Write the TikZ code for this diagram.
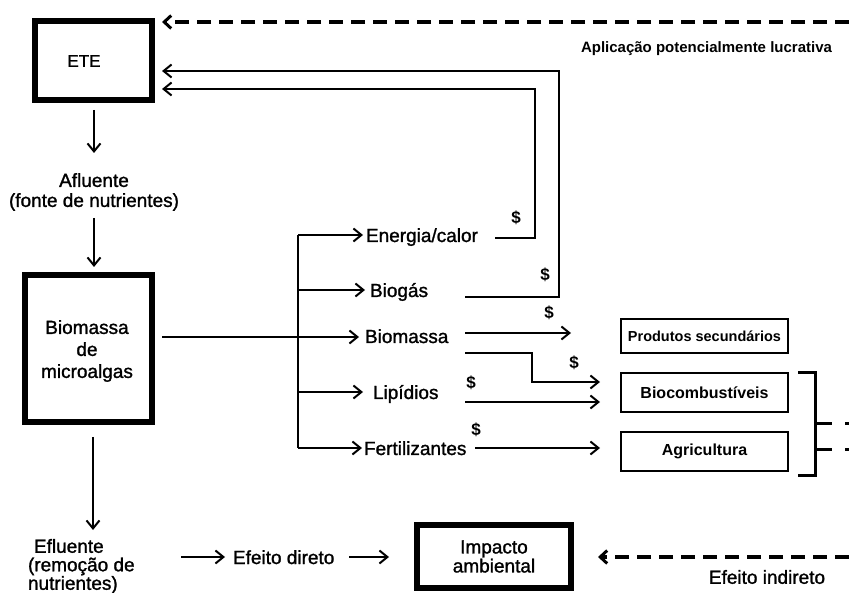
\documentclass[tikz,border=0pt]{standalone}
\usepackage{fontspec}
\setmainfont{Liberation Sans}
\newfontfamily\lblfont{Liberation Sans}[FakeBold=1.3]
\usetikzlibrary{arrows.meta,calc}
\begin{document}
\begin{tikzpicture}[x=1pt,y=-1pt,line width=2pt,
 lbl/.style={font=\lblfont\fontsize{19}{20}\selectfont, inner sep=0pt, outer sep=0pt},
 blbl/.style={font=\bfseries\fontsize{15}{17}\selectfont, inner sep=0pt, outer sep=0pt},
 dol/.style={font=\bfseries\fontsize{17}{17}\selectfont, inner sep=0pt},
 arr/.style={-{Straight Barb[length=8pt,width=13pt,line width=2pt]}},
 darr/.style={-{Straight Barb[length=7pt,width=13pt,line width=3pt]}, line width=3.5pt, dash pattern=on 14pt off 8pt},
 bigbox/.style={draw, line width=6pt, inner sep=0pt, outer sep=0pt},
 smallbox/.style={draw, line width=2.5pt, inner sep=0pt, outer sep=0pt, minimum width=167pt, font=\bfseries\fontsize{16}{16}\selectfont},
]
\useasboundingbox (0,0) rectangle (849,593);

% main boxes
\node[bigbox, minimum width=117pt, minimum height=79pt] (ete) at (93.5,60.5) {};
\node[lbl, font=\lblfont\fontsize{17}{17}\selectfont] (eteT) at (84,61) {ETE};
\node[lbl, align=center, font=\lblfont\fontsize{19}{20}\selectfont] (afl) at (94,192) {Afluente\\(fonte de nutrientes)};
\node[bigbox, minimum width=127pt, minimum height=147pt] (bio) at (88.5,348.5) {};
\node[lbl, align=center, font=\lblfont\fontsize{19}{22}\selectfont] (bioT) at (87,351) {Biomassa\\de\\microalgas};
\node[lbl, align=left, anchor=north west, font=\lblfont\fontsize{19}{18.5}\selectfont] (efl) at (28,539) {\hspace*{6pt}Efluente\\(remoção de\\nutrientes)};
\node[bigbox, minimum width=154pt, minimum height=63pt, align=center, font=\lblfont\fontsize{19}{19}\selectfont] (imp) at (494,556.5) {Impacto\\ambiental};

% labels
\node[blbl] (apl) at (706.5,49) {Aplicação potencialmente lucrativa};
\node[lbl, anchor=base west] (lEn) at (366,242) {Energia/calor};
\node[lbl, anchor=base west] (lBg) at (370,297) {Biogás};
\node[lbl, anchor=base west] (lBm) at (365,343) {Biomassa};
\node[lbl, anchor=base west] (lLp) at (373,399) {Lipídios};
\node[lbl, anchor=base west] (lFt) at (364,455) {Fertilizantes};
\node[lbl, anchor=base west] (ed) at (233,564) {Efeito direto};
\node[lbl] (ei) at (767,577) {Efeito indireto};

% right boxes
\node[smallbox, minimum height=34pt, font=\bfseries\fontsize{14.5}{15}\selectfont] (prod) at (704.5,336) {Produtos secundários};
\node[smallbox, minimum height=39pt] (bcomb) at (704.5,392.5) {Biocombustíveis};
\node[smallbox, minimum height=39pt] (agri) at (704.5,451.5) {Agricultura};

% dollar signs
\node[dol] (d1) at (516,218) {\$};
\node[dol] (d2) at (545,275) {\$};
\node[dol] (d3) at (549,313) {\$};
\node[dol] (d4) at (574,363) {\$};
\node[dol] (d5) at (471,383) {\$};
\node[dol] (d6) at (476,430) {\$};

% coordinates
\coordinate (tr) at (849,22);
\coordinate (br) at (849,557);
\coordinate (c1) at (559,71);
\coordinate (c2) at (535,89);
\coordinate (bgS) at (465,297);
\coordinate (enS) at (495,238);
\coordinate (a1s) at (94,110);
\coordinate (a1e) at (94,153);
\coordinate (a2s) at (94,218);
\coordinate (a2e) at (94,267);
\coordinate (a3s) at (93,437);
\coordinate (a3e) at (93,530);
\coordinate (busT) at (298,235);
\coordinate (busB) at (298,448);
\coordinate (bioOut) at (162,337);

% top dashed and return arrows
\draw[darr, shorten >=10pt] (tr) -- (ete.east |- tr);
\draw[arr, shorten >=10pt] (bgS) -| (c1) -- (ete.east |- c1);
\draw[arr, shorten >=10pt] (enS) -| (c2) -- (ete.east |- c2);

% vertical flow
\draw[arr] (a1s) -- (a1e);
\draw[arr] (a2s) -- (a2e);
\draw[arr] (a3s) -- (a3e);

% bus and branches
\draw (busT) -- (busB);
\draw[arr] (bioOut) -- ($(lBm.west |- bioOut)+(-6,0)$);
\draw[arr] (busT) -- ($(lEn.west |- busT)+(-3,0)$);
\draw[arr] (298,290) coordinate (bb2) -- ($(lBg.west |- bb2)+(-5,0)$);
\draw[arr] (298,392) coordinate (bb4) -- ($(lLp.west |- bb4)+(-10,0)$);
\draw[arr] (busB) -- ($(lFt.west |- busB)+(-2,0)$);

% outputs
\draw[arr] (465,333) coordinate (o1) -- ($(prod.west |- o1)+(-50,0)$);
\draw[arr] (465,353) coordinate (o2) -| (532,382) -- ($(bcomb.west |- 0,382)+(-21,0)$);
\draw[arr] (465,402) coordinate (o3) -- ($(bcomb.west |- o3)+(-21,0)$);
\draw[arr] (475,448) coordinate (o4) -- ($(agri.west |- o4)+(-21,0)$);

% bracket
\draw[line width=3pt] ($(bcomb.north east)+(10,-0.5)$) -- ++(17,0) |- ($(agri.south east)+(10,4)$);
\draw[line width=3pt, dash pattern=on 17pt off 13pt] (815,424) -- (849,424);
\draw[line width=3pt, dash pattern=on 17pt off 13pt] (815,450) -- (849,450);

% bottom
\draw[arr] (181,557) -- ($(ed.west |- 0,557)+(-8,0)$);
\draw[arr] (349,557) -- ($(imp.west |- 0,557)+(-28,0)$);
\draw[darr, shorten >=27pt] (br) -- (imp.east |- br);
\end{tikzpicture}
\end{document}
